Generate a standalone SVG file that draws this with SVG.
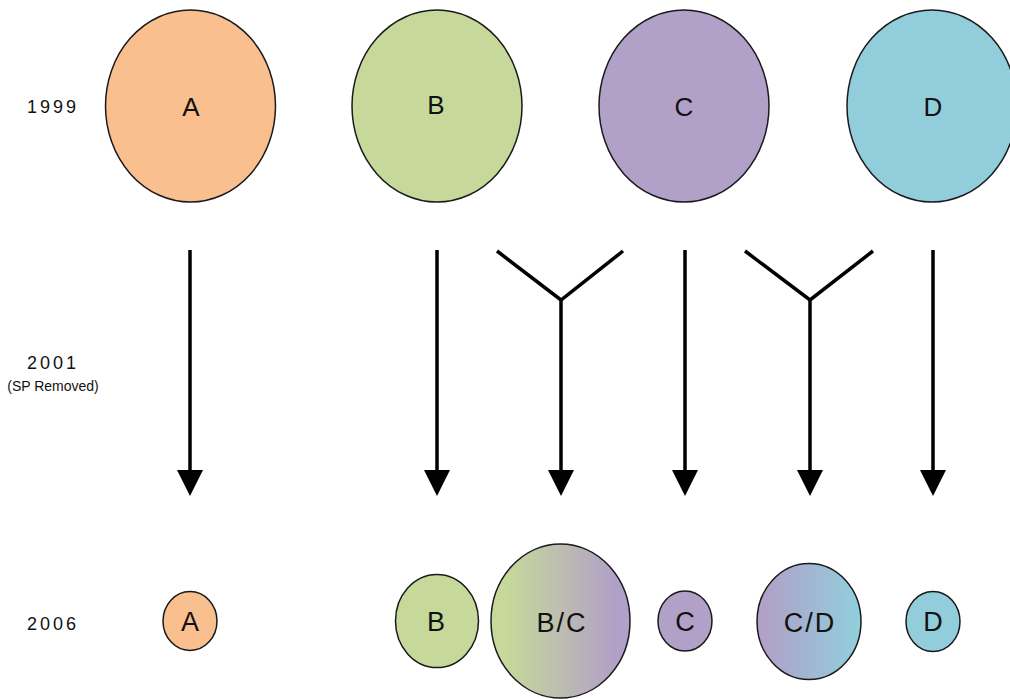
<svg xmlns="http://www.w3.org/2000/svg" width="1010" height="699" viewBox="0 0 1010 699">
  <style>
    .node ellipse { stroke: #1a1a1a; stroke-width: 1.5; }
    .a { fill: #F9BF8F; }
    .b { fill: #C6D99A; }
    .c { fill: #B1A0C7; }
    .d { fill: #92CDDC; }
    .lbl { font-family: "Liberation Sans", Arial, sans-serif; fill: #111; text-anchor: middle; }
    .big { font-size: 26px; }
    .small { font-size: 27px; letter-spacing: 2px; }
    .year { font-size: 18px; letter-spacing: 3px; }
    .note { font-size: 14px; }
    .conn line, .conn polyline { stroke: #000; stroke-width: 3.5; fill: none; stroke-linejoin: miter; }
  </style>
  <defs>
    <linearGradient id="gBC" x1="0" y1="0" x2="1" y2="0">
      <stop offset="0.1" stop-color="#C6D99A"/>
      <stop offset="0.5" stop-color="#BDBDB1"/>
      <stop offset="0.9" stop-color="#B1A0C7"/>
    </linearGradient>
    <linearGradient id="gCD" x1="0" y1="0" x2="1" y2="0">
      <stop offset="0.05" stop-color="#B1A0C7"/>
      <stop offset="0.5" stop-color="#A1B6D2"/>
      <stop offset="0.95" stop-color="#92CDDC"/>
    </linearGradient>
    <marker id="arr" markerUnits="userSpaceOnUse" viewBox="0 -13 26 26" refX="0" refY="0" markerWidth="26" markerHeight="26" orient="auto">
      <path d="M0,-13 L26,0 L0,13 z" fill="#000"/>
    </marker>
  </defs>

  <g id="years">
    <text class="lbl year" x="53" y="113">1999</text>
    <text class="lbl year" x="53" y="369">2001</text>
    <text class="lbl note" x="53" y="391">(SP Removed)</text>
    <text class="lbl year" x="53" y="630">2006</text>
  </g>

  <g id="A1999" class="node">
    <ellipse class="a" cx="190.5" cy="106" rx="85" ry="96"/>
    <text class="lbl big" x="191" y="116">A</text>
  </g>
  <g id="B1999" class="node">
    <ellipse class="b" cx="437" cy="106" rx="85" ry="96"/>
    <text class="lbl big" x="436" y="114">B</text>
  </g>
  <g id="C1999" class="node">
    <ellipse class="c" cx="684" cy="106" rx="85" ry="96"/>
    <text class="lbl big" x="684" y="116">C</text>
  </g>
  <g id="D1999" class="node">
    <ellipse class="d" cx="932" cy="106" rx="85" ry="96"/>
    <text class="lbl big" x="933" y="116">D</text>
  </g>

  <g id="connectors" class="conn">
    <line x1="190" y1="250" x2="190" y2="470" marker-end="url(#arr)"/>
    <line x1="437" y1="250" x2="437" y2="470" marker-end="url(#arr)"/>
    <polyline points="497,251 561,300 623,251"/>
    <line x1="561" y1="300" x2="561" y2="470" marker-end="url(#arr)"/>
    <line x1="685" y1="250" x2="685" y2="470" marker-end="url(#arr)"/>
    <polyline points="745,251 810,300 873,251"/>
    <line x1="810" y1="300" x2="810" y2="470" marker-end="url(#arr)"/>
    <line x1="933" y1="250" x2="933" y2="470" marker-end="url(#arr)"/>
  </g>

  <g id="A2006" class="node">
    <ellipse class="a" cx="190" cy="621" rx="27" ry="29.5"/>
    <text class="lbl small" x="191" y="631">A</text>
  </g>
  <g id="B2006" class="node">
    <ellipse class="b" cx="437" cy="621" rx="41.5" ry="46.5"/>
    <text class="lbl small" x="437" y="631">B</text>
  </g>
  <g id="BC2006" class="node">
    <ellipse fill="url(#gBC)" cx="560.5" cy="621" rx="69.5" ry="77"/>
    <text class="lbl small" x="562" y="632">B/C</text>
  </g>
  <g id="C2006" class="node">
    <ellipse class="c" cx="685" cy="621" rx="27" ry="30"/>
    <text class="lbl small" x="686" y="631">C</text>
  </g>
  <g id="CD2006" class="node">
    <ellipse fill="url(#gCD)" cx="809" cy="621.5" rx="52" ry="58"/>
    <text class="lbl small" x="810" y="632">C/D</text>
  </g>
  <g id="D2006" class="node">
    <ellipse class="d" cx="933" cy="621.5" rx="27" ry="30"/>
    <text class="lbl small" x="934" y="631">D</text>
  </g>
</svg>
